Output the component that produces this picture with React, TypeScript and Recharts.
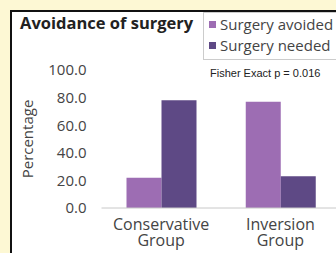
import React from "react";
import { BarChart, Bar, XAxis, YAxis, Legend, Label } from "recharts";

const categories = ["Conservative Group", "Inversion Group"];
const surgeryAvoided = [22, 77];
const surgeryNeeded = [78, 23];
const yTicks = [0, 20, 40, 60, 80, 100];

const data = categories.map((c, i) => ({
  name: c,
  avoided: surgeryAvoided[i],
  needed: surgeryNeeded[i],
}));

const LIGHT = "#9d6db3";
const DARK = "#5e4985";
const FONT = "'Open Sans', 'Noto Sans', sans-serif";

const CatTick = (props: any) => {
  const { x, y, payload } = props;
  const words = String(payload.value).split(" ");
  return (
    <g transform={`translate(${x},${y})`}>
      {words.map((w: string, i: number) => (
        <text
          key={i}
          x={0}
          y={14 + i * 16}
          textAnchor="middle"
          fill="#444"
          fontSize={16}
          fontFamily={FONT}
        >
          {w}
        </text>
      ))}
    </g>
  );
};

const LegendBox = (props: any) => {
  const items = props.payload || [];
  return (
    <div
      style={{
        border: "1px solid #ccc",
        padding: "1px 4px 3px 5px",
        background: "#fff",
        fontFamily: FONT,
        fontSize: 15,
        color: "#444",
        lineHeight: "21px",
        width: 160,
      }}
    >
      {items.map((it: any, i: number) => (
        <div key={i} style={{ display: "flex", alignItems: "center" }}>
          <span
            style={{
              display: "inline-block",
              width: 7,
              height: 7,
              background: it.color,
              marginRight: 4,
            }}
          />
          <span>{it.value}</span>
        </div>
      ))}
    </div>
  );
};

export default function App() {
  return (
    <div
      style={{
        position: "fixed",
        left: 0,
        top: 0,
        width: 336,
        height: 253,
        overflow: "hidden",
        background: "#fdf8d4",
      }}
    >
      <div
        style={{
          position: "absolute",
          left: 10,
          top: 10,
          width: 340,
          height: 250,
          background: "#fff",
          borderLeft: "2px solid #111",
          borderTop: "2px solid #111",
        }}
      />
      <div
        style={{
          position: "absolute",
          left: 20,
          top: 11,
          fontFamily: FONT,
          fontWeight: 700,
          fontSize: 16.5,
          color: "#222",
        }}
      >
        Avoidance of surgery
      </div>
      <div
        style={{
          position: "absolute",
          left: 210,
          top: 67,
          fontFamily: "'Liberation Sans', Arial, sans-serif",
          fontSize: 11,
          color: "#222",
        }}
      >
        Fisher Exact p = 0.016
      </div>
      <div style={{ position: "absolute", left: 0, top: 0 }}>
        <BarChart
          width={340}
          height={253}
          data={data}
          margin={{ top: 70, right: 0, bottom: 0, left: 0 }}
          barGap={0}
          barCategoryGap={25}
        >
          <YAxis
            width={101.5}
            domain={[0, 100]}
            ticks={yTicks}
            tickFormatter={(v: number) => v.toFixed(1)}
            axisLine={false}
            tickLine={false}
            tickSize={0}
            tickMargin={15}
            tick={{ fill: "#444", fontSize: 15, fontFamily: FONT }}
          >
            <Label
              value="Percentage"
              angle={-90}
              position="insideLeft"
              offset={28}
              style={{ fill: "#444", fontSize: 15, fontFamily: FONT, textAnchor: "middle" }}
            />
          </YAxis>
          <XAxis
            dataKey="name"
            height={45}
            axisLine={{ stroke: "#c8c8c8" }}
            tickLine={false}
            interval={0}
            tick={<CatTick />}
          />
          <Bar dataKey="avoided" name="Surgery avoided" fill={LIGHT} isAnimationActive={false} />
          <Bar dataKey="needed" name="Surgery needed" fill={DARK} isAnimationActive={false} />
          <Legend
            layout="vertical"
            align="center"
            verticalAlign="middle"
            wrapperStyle={{ position: "absolute", left: 203, top: 12, width: 170 }}
            content={<LegendBox />}
          />
        </BarChart>
      </div>
    </div>
  );
}
